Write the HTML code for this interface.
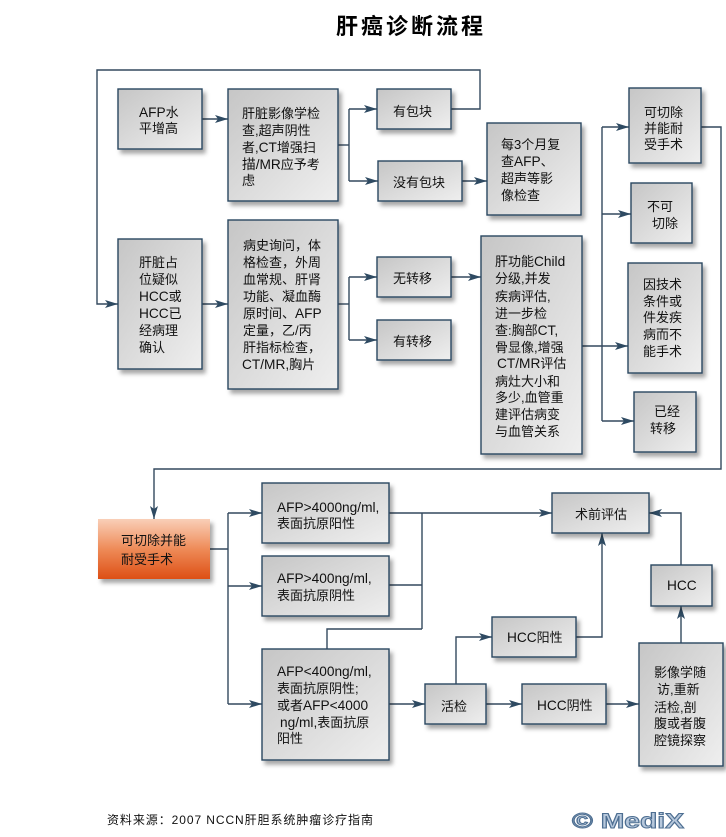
<!DOCTYPE html>
<html>
<head>
<meta charset="utf-8">
<style>
  html,body{margin:0;padding:0;background:#fff;}
  svg{display:block;}
  .t{font-family:"Liberation Sans","Noto Sans CJK SC",sans-serif;font-size:13px;fill:#111;}
  .l{font-size:13.7px;}
  .ln{fill:none;stroke:#34495e;stroke-width:1.4;}
  .bx{fill:url(#g);stroke:#2c4660;stroke-width:1.4;filter:url(#sh);}
</style>
</head>
<body>
<svg width="726" height="837" viewBox="0 0 726 837" xmlns="http://www.w3.org/2000/svg">
  <defs>
    <linearGradient id="g" x1="0" y1="0" x2="1" y2="1">
      <stop offset="0" stop-color="#c6c6c6"/>
      <stop offset="1" stop-color="#efefef"/>
    </linearGradient>
    <linearGradient id="og" x1="0" y1="0" x2="0" y2="1">
      <stop offset="0" stop-color="#f9cfb8"/>
      <stop offset="0.5" stop-color="#ee8b58"/>
      <stop offset="1" stop-color="#dd4f15"/>
    </linearGradient>
    <filter id="sh" x="-20%" y="-20%" width="150%" height="150%">
      <feDropShadow dx="3" dy="4" stdDeviation="2" flood-color="#000" flood-opacity="0.35"/>
    </filter>
    <marker id="a" markerUnits="userSpaceOnUse" markerWidth="14" markerHeight="10" refX="13" refY="5" orient="auto">
      <path d="M0,1 L13,5 L0,9 L3,5 z" fill="#2e4a62"/>
    </marker>
  </defs>

  <!-- Title -->
  <text x="411" y="34" text-anchor="middle" style="font-family:'Liberation Sans','Noto Sans CJK SC',sans-serif;font-size:22px;font-weight:bold;letter-spacing:3px;fill:#000;">肝癌诊断流程</text>

  <!-- Connectors -->
  <polyline class="ln" points="202,119 228,119" marker-end="url(#a)"/>
  <polyline class="ln" points="338,145 349,145"/>
  <polyline class="ln" points="349,109 349,181"/>
  <polyline class="ln" points="349,109 377,109" marker-end="url(#a)"/>
  <polyline class="ln" points="349,181 378,181" marker-end="url(#a)"/>
  <polyline class="ln" points="451,109 480,109 480,70 97,70 97,304 118,304" marker-end="url(#a)"/>
  <polyline class="ln" points="462,181 487,181" marker-end="url(#a)"/>
  <polyline class="ln" points="202,304 228,304" marker-end="url(#a)"/>
  <polyline class="ln" points="338,304 349,304"/>
  <polyline class="ln" points="349,277 349,340"/>
  <polyline class="ln" points="349,277 377,277" marker-end="url(#a)"/>
  <polyline class="ln" points="349,340 377,340" marker-end="url(#a)"/>
  <polyline class="ln" points="451,277 481,277" marker-end="url(#a)"/>
  <polyline class="ln" points="582,346 628,346" marker-end="url(#a)"/>
  <polyline class="ln" points="602,127 602,421"/>
  <polyline class="ln" points="602,127 629,127" marker-end="url(#a)"/>
  <polyline class="ln" points="602,214 631,214" marker-end="url(#a)"/>
  <polyline class="ln" points="602,421 634,421" marker-end="url(#a)"/>
  <polyline class="ln" points="701,127 721,127 721,469 154,469 154,519" marker-end="url(#a)"/>

  <polyline class="ln" points="210,549 228,549"/>
  <polyline class="ln" points="228,513 228,704"/>
  <polyline class="ln" points="228,513 262,513" marker-end="url(#a)"/>
  <polyline class="ln" points="228,586 262,586" marker-end="url(#a)"/>
  <polyline class="ln" points="228,704 262,704" marker-end="url(#a)"/>
  <polyline class="ln" points="389,513 552,513" marker-end="url(#a)"/>
  <polyline class="ln" points="422,513 422,629"/>
  <polyline class="ln" points="389,585 422,585"/>
  <polyline class="ln" points="422,629 327,629 327,649"/>
  <polyline class="ln" points="389,704 425,704" marker-end="url(#a)"/>
  <polyline class="ln" points="486,704 522,704" marker-end="url(#a)"/>
  <polyline class="ln" points="456,684 456,637 492,637" marker-end="url(#a)"/>
  <polyline class="ln" points="576,637 602,637 602,533" marker-end="url(#a)"/>
  <polyline class="ln" points="606,704 639,704" marker-end="url(#a)"/>
  <polyline class="ln" points="681,643 681,606" marker-end="url(#a)"/>
  <polyline class="ln" points="681,565 681,513 649,513" marker-end="url(#a)"/>

  <!-- Boxes -->
  <rect class="bx" x="118" y="89" width="84" height="60"/>
  <rect class="bx" x="228" y="89" width="110" height="112"/>
  <rect class="bx" x="377" y="89" width="74" height="40"/>
  <rect class="bx" x="378" y="161" width="84" height="40"/>
  <rect class="bx" x="487" y="123" width="94" height="92"/>
  <rect class="bx" x="629" y="88" width="72" height="75"/>
  <rect class="bx" x="631" y="183" width="61" height="60"/>
  <rect class="bx" x="628" y="263" width="74" height="110"/>
  <rect class="bx" x="634" y="392" width="62" height="60"/>
  <rect class="bx" x="118" y="239" width="84" height="130"/>
  <rect class="bx" x="228" y="220" width="110" height="169"/>
  <rect class="bx" x="377" y="257" width="74" height="40"/>
  <rect class="bx" x="377" y="320" width="74" height="40"/>
  <rect class="bx" x="481" y="236" width="101" height="218"/>

  <rect x="98" y="519" width="112" height="60" fill="url(#og)" filter="url(#sh)"/>
  <rect class="bx" x="262" y="483" width="127" height="60"/>
  <rect class="bx" x="262" y="556" width="127" height="60"/>
  <rect class="bx" x="262" y="649" width="127" height="111"/>
  <rect class="bx" x="552" y="493" width="97" height="40"/>
  <rect class="bx" x="651" y="565" width="61" height="41"/>
  <rect class="bx" x="492" y="617" width="84" height="40"/>
  <rect class="bx" x="425" y="684" width="61" height="40"/>
  <rect class="bx" x="522" y="684" width="84" height="40"/>
  <rect class="bx" x="639" y="643" width="84" height="123"/>

  <!-- Text -->
  <text class="t" x="139" y="117"><tspan class="l">AFP</tspan>水</text>
  <text class="t" x="139" y="133">平增高</text>

  <text class="t" x="242" y="118">肝脏影像学检</text>
  <text class="t" x="242" y="135">查,超声阴性</text>
  <text class="t" x="242" y="152">者,<tspan class="l">CT</tspan>增强扫</text>
  <text class="t" x="242" y="169"><tspan class="l">描/MR</tspan>应予考</text>
  <text class="t" x="242" y="185">虑</text>

  <text class="t" x="393" y="116">有包块</text>
  <text class="t" x="393" y="187">没有包块</text>

  <text class="t" x="501" y="149">每3个月复</text>
  <text class="t" x="501" y="166">查<tspan class="l">AFP</tspan>、</text>
  <text class="t" x="501" y="183">超声等影</text>
  <text class="t" x="501" y="200">像检查</text>

  <text class="t" x="644" y="117">可切除</text>
  <text class="t" x="644" y="133">并能耐</text>
  <text class="t" x="644" y="149">受手术</text>

  <text class="t" x="647" y="211">不可</text>
  <text class="t" x="652" y="228">切除</text>

  <text class="t" x="643" y="289">因技术</text>
  <text class="t" x="643" y="306">条件或</text>
  <text class="t" x="643" y="322">件发疾</text>
  <text class="t" x="643" y="339">病而不</text>
  <text class="t" x="643" y="356">能手术</text>

  <text class="t" x="654" y="416">已经</text>
  <text class="t" x="650" y="433">转移</text>

  <text class="t" x="139" y="267">肝脏占</text>
  <text class="t" x="139" y="284">位疑似</text>
  <text class="t" x="139" y="301"><tspan class="l">HCC</tspan>或</text>
  <text class="t" x="139" y="318"><tspan class="l">HCC</tspan>已</text>
  <text class="t" x="139" y="335">经病理</text>
  <text class="t" x="139" y="352">确认</text>

  <text class="t" x="243" y="250">病史询问，体</text>
  <text class="t" x="243" y="267">格检查，外周</text>
  <text class="t" x="243" y="284">血常规、肝肾</text>
  <text class="t" x="243" y="301">功能、凝血酶</text>
  <text class="t" x="243" y="318">原时间、<tspan class="l">AFP</tspan></text>
  <text class="t" x="243" y="335">定量，乙/丙</text>
  <text class="t" x="243" y="352">肝指标检查，</text>
  <text class="t" x="242" y="369"><tspan class="l">CT/MR,</tspan>胸片</text>

  <text class="t" x="393" y="283">无转移</text>
  <text class="t" x="393" y="346">有转移</text>

  <text class="t" x="495" y="266">肝功能<tspan class="l">Child</tspan></text>
  <text class="t" x="495" y="283">分级,并发</text>
  <text class="t" x="495" y="301">疾病评估,</text>
  <text class="t" x="495" y="318">进一步检</text>
  <text class="t" x="495" y="335">查:胸部<tspan class="l">CT,</tspan></text>
  <text class="t" x="495" y="352">骨显像,增强</text>
  <text class="t" x="497" y="368"><tspan class="l">CT/MR</tspan>评估</text>
  <text class="t" x="495" y="386">病灶大小和</text>
  <text class="t" x="495" y="402">多少,血管重</text>
  <text class="t" x="495" y="419">建评估病变</text>
  <text class="t" x="495" y="436">与血管关系</text>

  <text class="t" x="121" y="545">可切除并能</text>
  <text class="t" x="121" y="564">耐受手术</text>

  <text class="t" x="277" y="512"><tspan class="l">AFP&gt;4000ng/ml,</tspan></text>
  <text class="t" x="277" y="528">表面抗原阳性</text>
  <text class="t" x="277" y="583"><tspan class="l">AFP&gt;400ng/ml,</tspan></text>
  <text class="t" x="277" y="600">表面抗原阴性</text>

  <text class="t" x="277" y="676"><tspan class="l">AFP&lt;400ng/ml,</tspan></text>
  <text class="t" x="277" y="693">表面抗原阴性;</text>
  <text class="t" x="277" y="710">或者<tspan class="l">AFP&lt;4000</tspan></text>
  <text class="t" x="280" y="727"><tspan class="l">ng/ml,</tspan>表面抗原</text>
  <text class="t" x="277" y="743">阳性</text>

  <text class="t" x="575" y="519">术前评估</text>
  <text class="t" x="667" y="590"><tspan class="l">HCC</tspan></text>
  <text class="t" x="507" y="642"><tspan class="l">HCC</tspan>阳性</text>
  <text class="t" x="441" y="711">活检</text>
  <text class="t" x="537" y="710"><tspan class="l">HCC</tspan>阴性</text>

  <text class="t" x="654" y="677">影像学随</text>
  <text class="t" x="657" y="694">访,重新</text>
  <text class="t" x="654" y="712">活检,剖</text>
  <text class="t" x="654" y="728">腹或者腹</text>
  <text class="t" x="654" y="745">腔镜探察</text>

  <!-- Footer -->
  <text x="107" y="824" textLength="266" lengthAdjust="spacing" style="font-family:'Liberation Sans','Noto Sans CJK SC',sans-serif;font-size:12px;fill:#111;">资料来源：2007 NCCN肝胆系统肿瘤诊疗指南</text>
  <text x="572" y="828" textLength="112" lengthAdjust="spacingAndGlyphs" style="font-family:'Liberation Sans',sans-serif;font-size:21px;font-weight:bold;fill:#b7c8dc;stroke:#4e6f92;stroke-width:1;">© MediX</text>
</svg>
</body>
</html>
